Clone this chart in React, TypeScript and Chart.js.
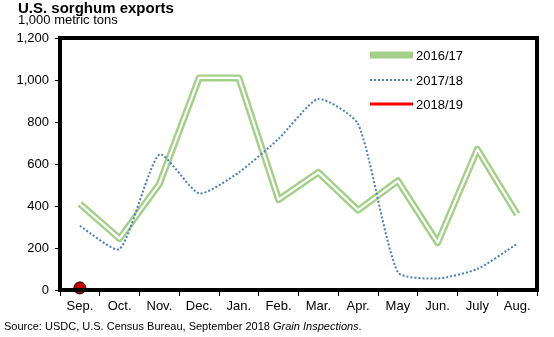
import React, { useEffect, useRef } from "react";
import { Chart, registerables } from "chart.js";

Chart.register(...registerables);

const months = ["Sep.", "Oct.", "Nov.", "Dec.", "Jan.", "Feb.", "Mar.", "Apr.", "May", "Jun.", "July", "Aug."];
const y2016 = [410, 245, 505, 1010, 1010, 430, 560, 380, 520, 225, 670, 360];
const y2017 = [305, 195, 645, 460, 560, 720, 910, 790, 85, 55, 100, 220];
const y2018 = [10, null, null, null, null, null, null, null, null, null, null, null];
const seriesNames = ["2016/17", "2017/18", "2018/19"];
const yTicks = [0, 200, 400, 600, 800, 1000, 1200];

const GREEN = "#a3cf88";
const BLUE = "#4a7ebb";
const RED = "#ff0000";
const FONT = "'Liberation Sans', Arial, sans-serif";

export default function App() {
  const ref = useRef<HTMLCanvasElement | null>(null);
  useEffect(() => {
    document.body.style.margin = "0";
    const canvas = ref.current!;
    const decor = {
      id: "decor",
      afterDraw(chart: any) {
        const ctx = chart.ctx;
        const a = chart.chartArea;
        ctx.save();
        // frame
        ctx.strokeStyle = "#000";
        ctx.lineWidth = 4;
        ctx.strokeRect(a.left, a.top, a.right - a.left, a.bottom - a.top);
        // title
        ctx.fillStyle = "#000";
        ctx.textBaseline = "alphabetic";
        ctx.textAlign = "left";
        ctx.font = `bold 15px ${FONT}`;
        ctx.fillText("U.S. sorghum exports", 18, 13);
        ctx.font = `13px ${FONT}`;
        ctx.fillText("1,000 metric tons", 18, 24);
        // source
        ctx.font = `11px ${FONT}`;
        const s1 = "Source: USDC, U.S. Census Bureau, September 2018 ";
        ctx.fillText(s1, 4, 330);
        let x = 4 + ctx.measureText(s1).width;
        ctx.font = `italic 11px ${FONT}`;
        ctx.fillText("Grain Inspections", x, 330);
        x += ctx.measureText("Grain Inspections").width;
        ctx.font = `11px ${FONT}`;
        ctx.fillText(".", x, 330);
        // legend
        const lx0 = 370, lx1 = 413, tx = 416;
        const rows = [55, 80, 104];
        ctx.font = `13px ${FONT}`;
        ctx.textBaseline = "middle";
        ctx.fillStyle = GREEN;
        ctx.fillRect(lx0, rows[0] - 3.5, lx1 - lx0, 7);
        ctx.strokeStyle = BLUE;
        ctx.lineWidth = 2;
        ctx.setLineDash([2, 2]);
        ctx.beginPath();
        ctx.moveTo(lx0, rows[1]);
        ctx.lineTo(lx1, rows[1]);
        ctx.stroke();
        ctx.setLineDash([]);
        ctx.strokeStyle = RED;
        ctx.lineWidth = 3;
        ctx.beginPath();
        ctx.moveTo(lx0, rows[2]);
        ctx.lineTo(lx1, rows[2]);
        ctx.stroke();
        ctx.fillStyle = "#000";
        seriesNames.forEach((n, i) => ctx.fillText(n, tx, rows[i] + 1));
        ctx.restore();
      },
    };
    const chart = new Chart(canvas, {
      type: "line",
      data: {
        labels: months,
        datasets: [
          {
            label: seriesNames[0],
            data: y2016,
            borderColor: GREEN,
            borderWidth: 7,
            borderJoinStyle: "round",
            pointRadius: 0,
            tension: 0,
            order: 3,
          },
          {
            label: "_inner",
            data: y2016,
            borderColor: "#ffffff",
            borderWidth: 2.2,
            borderJoinStyle: "round",
            pointRadius: 0,
            tension: 0,
            order: 2,
          },
          {
            label: seriesNames[1],
            data: y2017,
            borderColor: BLUE,
            borderWidth: 2,
            borderDash: [2, 2],
            pointRadius: 0,
            tension: 0.2,
            order: 1,
          },
          {
            label: seriesNames[2],
            data: y2018,
            borderColor: RED,
            borderWidth: 3,
            pointRadius: 6,
            pointBackgroundColor: "#c00000",
            pointBorderColor: "#000",
            pointBorderWidth: 1,
            clip: false,
            order: 0,
          },
        ],
      },
      options: {
        responsive: false,
        animation: false,
        layout: { padding: { top: 38, right: 17, left: 0, bottom: 0 } },
        plugins: { legend: { display: false }, tooltip: { enabled: false }, title: { display: false } },
        scales: {
          x: {
            offset: true,
            grid: { display: true, drawOnChartArea: false, drawTicks: true, tickLength: 6, color: "#000", offset: true },
            border: { display: false },
            ticks: { color: "#000", font: { family: FONT, size: 13 }, padding: 3, maxRotation: 0, autoSkip: false },
            afterFit: (s: any) => { s.height = 47; },
          },
          y: {
            min: 0,
            max: 1200,
            afterBuildTicks: (s: any) => { s.ticks = yTicks.map((v) => ({ value: v })); },
            grid: { display: true, drawOnChartArea: false, drawTicks: true, tickLength: 5, color: "#000" },
            border: { display: false },
            ticks: {
              color: "#000",
              font: { family: FONT, size: 13 },
              padding: 6,
              callback: (v: any) => Number(v).toLocaleString("en-US"),
            },
            afterFit: (s: any) => { s.width = 60; },
          },
        },
      },
      plugins: [decor],
    } as any);
    return () => chart.destroy();
  }, []);
  return <canvas ref={ref} width={554} height={337} style={{ display: "block" }} />;
}
